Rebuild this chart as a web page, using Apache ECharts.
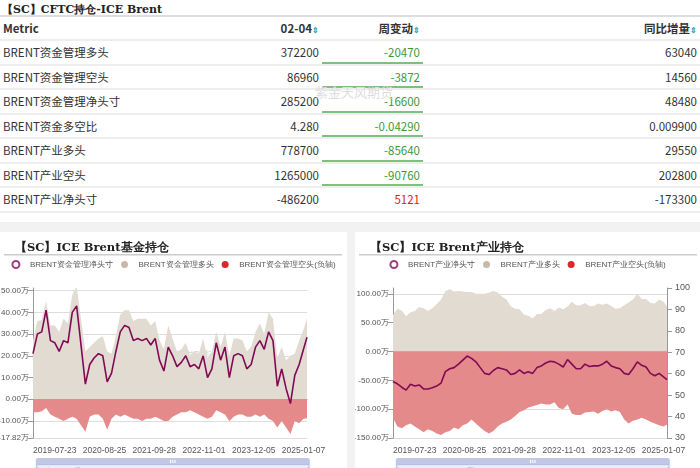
<!DOCTYPE html>
<html><head><meta charset="utf-8">
<script src="https://cdn.jsdelivr.net/npm/echarts@6/dist/echarts.min.js"></script>
<style>
body{margin:0;width:700px;height:468px;overflow:hidden;background:#f2f2f2;font-family:"Noto Sans CJK SC","Noto Sans",sans-serif;}
#top{position:absolute;left:0;top:0;width:700px;height:222px;background:#fff;}
.ttl{font-weight:bold;font-size:11px;color:#222;padding:2px 0 0 2px;height:13px;border-bottom:2px solid #ddd;font-family:"DejaVu Serif",serif;}
table{border-collapse:collapse;width:700px;font-size:11.5px;color:#333;}
th{font-weight:bold;height:22px;text-align:right;padding:0 3px;border-bottom:2px solid #eee;}
td{height:22.5px;text-align:right;padding:0 3px;border-bottom:2px solid #eee;}
th:first-child,td:first-child{text-align:left;}
.ic{color:#3aa;font-size:8px;}
.g{color:#3a9a3a;box-shadow:inset 0 -2px 0 #7ec07e;}
.r{color:#e02020;}
.wm{position:absolute;left:315px;top:82px;color:#ddd;font-size:13px;}
.panel{position:absolute;top:232px;height:236px;background:#fff;}
</style></head><body>
<div id="top">
<div class="ttl">【SC】CFTC持仓-ICE Brent</div>
<table id="tb"><tr><th style="width:210px">Metric</th><th style="width:100px">02-04<span class="ic">⇕</span></th><th style="width:95px">周变动<span class="ic">⇕</span></th><th>同比增量<span class="ic">⇕</span></th></tr></table>
<div class="wm">紫金天风期货</div>
</div>
<div class="panel" id="c1" style="left:0;width:347px"></div>
<div class="panel" id="c2" style="left:355px;width:345px"></div>
<script>
var metrics = ['BRENT资金管理多头','BRENT资金管理空头','BRENT资金管理净头寸','BRENT资金多空比','BRENT产业多头','BRENT产业空头','BRENT产业净头寸'];
var latest = ['372200','86960','285200','4.280','778700','1265000','-486200'];
var weekChg = ['-20470','-3872','-16600','-0.04290','-85640','-90760','5121'];
var yoy = ['63040','14560','48480','0.009900','29550','202800','-173300'];

// sampled every 5 weeks from 2019-01-29, last point 2025-02-04 (unit: 万)
var fundNet = [21,30,31,41,27,26,22,27,26,40,43,25,7,16,19,21,20,8,12,22,31,34,33,27,28,27,28,25,28,18,13,24,20,15,17,20,15,16,14,20,10,14,26,18,24,10,20,21,20,14,16,24,27,23,31,27,6,14,5,-2,11,16,23,28.52];
var fundLong = [27,36,36.5,45,34,34,31,37,35,48,52,37,22,24,26,28,29,22,21,29,39,41,41,36,37,37,37,34,36,27,23,34,28,22,23,26,20,22,21,28,19,22,31,24,31,20,28,28,27,22,24,31,35,30,40,37,19,24,18,20,21,27,32,37.22];
var fundShort = [6,6,5.5,4,7,8,9,10,9,8,9,12,15,8,7,7,9,14,9,7,8,7,8,9,9,10,9,9,8,9,10,10,8,7,6,6,5,6,7,8,9,8,5,6,7,10,8,7,7,8,8,7,8,7,9,10,13,10,13,16,10,11,9,8.696];
var indNet = [-52,-56,-62,-67,-57,-60,-58,-65,-65,-63,-60,-55,-35,-30,-28,-22,-15,-8,-12,-18,-28,-38,-40,-33,-28,-30,-32,-40,-38,-32,-38,-35,-38,-28,-25,-20,-17,-18,-22,-27,-14,-22,-30,-30,-22,-26,-25,-25,-22,-17,-25,-28,-30,-38,-40,-30,-18,-24,-27,-38,-42,-38,-44,-48.62];
var indLong = [63,74,71,61,68,70,77,75,70,75,82,90,105,108,104,105,104,103,103,100,100,100,102,105,102,95,90,78,74,73,64,62,57,65,65,72,75,70,76,73,78,86,80,80,84,79,79,83,81,83,79,74,75,80,85,90,100,91,91,84,83,90,86,77.87];
var indShort = [115,130,133,128,125,130,135,140,135,138,142,145,140,138,132,135,128,125,118,125,132,138,142,138,130,125,122,118,112,105,102,97,95,93,90,92,92,88,98,100,92,108,110,110,106,105,104,108,103,100,104,102,105,118,125,120,118,115,118,122,125,128,130,126.5];

var tb = document.getElementById('tb');
metrics.forEach(function(m, i){
  var cls = weekChg[i][0] === '-' ? 'g' : 'r';
  tb.insertAdjacentHTML('beforeend','<tr><td>'+m+'</td><td>'+latest[i]+'</td><td class="'+cls+'">'+weekChg[i]+'</td><td>'+yoy[i]+'</td></tr>');
});

var dates = [];
var d0 = new Date(Date.UTC(2019,0,29));
for (var w = 0; w < 315; w++) {
  var d = new Date(d0.getTime() + w*7*86400000);
  dates.push(d.toISOString().slice(0,10));
}
function pairs(arr, sign){
  return arr.map(function(v, k){ var idx = k === arr.length-1 ? 314 : k*5; return [dates[idx], v*10000*(sign||1)]; });
}
var wan = function(v){ return (v/10000).toFixed(2)+'万'; };
var showIdx = function(i){ return i >= 25 && (i-25) % 57 === 0; };

function build(el, title, names, net, lng, sht, ticks, ymax, gl, gr, rightAxis){
  var c = echarts.init(document.getElementById(el));
  var yAxis = [{type:'value', min:ticks[0], max:ymax,
    axisLabel:{customValues:ticks, formatter:wan, fontSize:8, color:'#555', margin:4},
    axisTick:{show:true, customValues:ticks},
    axisLine:{show:true,lineStyle:{color:'#999'}}, splitLine:{lineStyle:{color:'#ddd'}}}];
  if (rightAxis) yAxis.push({type:'value', min:30, max:100, interval:10, position:'right',
    axisLabel:{fontSize:9, color:'#555'}, axisLine:{show:true,lineStyle:{color:'#999'}}, axisTick:{show:true}, splitLine:{show:false}});
  c.setOption({
    animation:false,
    title:{text:title, left:10, top:5, textStyle:{fontSize:11.5, fontWeight:'bold', color:'#222', fontFamily:'DejaVu Serif'}},
    graphic:[{type:'rect', shape:{x:4,y:22,width:338,height:1.5}, style:{fill:'#ccc'}},
      {type:'text', left:'center', top:118, style:{text:'紫金天风期货', fill:'rgba(150,150,150,0.35)', font:'13px "Noto Sans CJK SC"'}}],
    legend:{top:23, itemWidth:18, itemHeight:7, itemGap:8, textStyle:{fontSize:8, color:'#555'},
      data:[{name:names[0], icon:'emptyCircle'}, {name:names[1], icon:'circle'}, {name:names[2], icon:'circle'}]},
    grid:{left:gl, right:gr, top:56, bottom:30, outerBoundsMode:'none'},
    xAxis:{type:'category', data:dates, boundaryGap:false,
      axisLabel:{interval:function(i){return showIdx(i);}, fontSize:8.5, color:'#555'},
      axisTick:{show:true, interval:function(i){return showIdx(i);}}, axisLine:{lineStyle:{color:'#999'}}},
    yAxis:yAxis,
    dataZoom:[{type:'slider', start:0, end:100, bottom:-6, height:16, showDetail:false}],
    series:[
      {name:names[0], type:'line', data:pairs(net), symbol:'emptyCircle', symbolSize:4, showSymbol:false, z:5,
        lineStyle:{color:'#800a55', width:1.6}, itemStyle:{color:'#a0407a'}},
      {name:names[1], type:'line', data:pairs(lng), symbol:'circle', showSymbol:false,
        lineStyle:{width:0}, itemStyle:{color:'#c8b9a7'}, areaStyle:{color:'#e2dbd1', opacity:1}},
      {name:names[2], type:'line', data:pairs(sht,-1), symbol:'circle', showSymbol:false,
        lineStyle:{width:0}, itemStyle:{color:'#d42a2a'}, areaStyle:{color:'#e58a8a', opacity:1}}
    ]
  });
}
build('c1','【SC】ICE Brent基金持仓',['BRENT资金管理净头寸','BRENT资金管理多头','BRENT资金管理空头(负轴)'],
  fundNet, fundLong, fundShort, [-178200,-100000,0,100000,200000,300000,400000,500000], 512000, 33, 40, false);
build('c2','【SC】ICE Brent产业持仓',['BRENT产业净头寸','BRENT产业多头','BRENT产业空头(负轴)'],
  indNet, indLong, indShort, [-1500000,-1000000,-500000,0,500000,1000000], 1100000, 38, 33, true);
</script>
</body></html>
